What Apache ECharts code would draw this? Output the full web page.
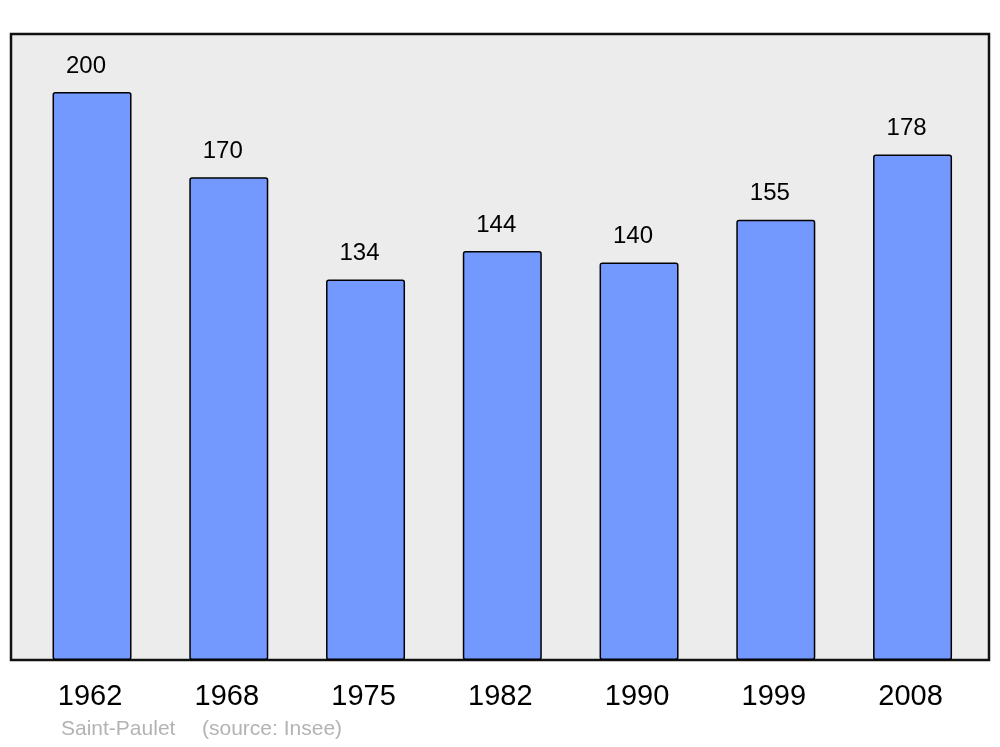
<!DOCTYPE html>
<html>
<head>
<meta charset="utf-8">
<script src="https://cdn.jsdelivr.net/npm/echarts@6/dist/echarts.min.js"></script>
<style>html,body{margin:0;padding:0;background:#fff;}#c{width:1000px;height:747px;}</style>
</head>
<body>
<div id="c"></div>
<script>
const years = ['1962', '1968', '1975', '1982', '1990', '1999', '2008'];
const population = [200, 170, 134, 144, 140, 155, 178];
const placeName = 'Saint-Paulet';
const sourceText = '(source: Insee)';

const chart = echarts.init(document.getElementById('c'), null, {renderer: 'canvas'});
const barData = population.map((v, i) => [i, v]);
const font = '"Liberation Sans", Arial, sans-serif';

chart.setOption({
  animation: false,
  backgroundColor: '#ffffff',
  title: [
    {text: placeName, left: 61, top: 719, textStyle: {fontFamily: font, fontSize: 21, fontWeight: 'normal', color: '#b3b3b3'}, padding: 0},
    {text: sourceText, left: 202, top: 719, textStyle: {fontFamily: font, fontSize: 21, fontWeight: 'normal', color: '#b3b3b3'}, padding: 0}
  ],
  grid: {
    left: 11, right: 11, top: 34, bottom: 87,
    show: true, backgroundColor: '#ececec', borderColor: '#111111', borderWidth: 2.5
  },
  xAxis: {
    type: 'value',
    min: -0.5925, max: 6.559,
    splitLine: {show: false},
    axisLine: {show: false},
    axisTick: {show: false},
    axisLabel: {
      customValues: [0, 1, 2, 3, 4, 5, 6],
      formatter: (v) => years[Math.round(v)],
      fontFamily: font, fontSize: 29, color: '#000', margin: 22,
      padding: [0, 4, 0, 0]
    }
  },
  yAxis: {
    type: 'value', min: 0, max: 220.42,
    show: false, splitLine: {show: false}
  },
  series: [{
    type: 'bar',
    data: barData,
    barWidth: 79,
    itemStyle: {color: '#7399ff', borderColor: '#000', borderWidth: 1.5, borderRadius: 2},
    label: {
      show: true, position: 'top', distance: 14, offset: [-6, 0],
      formatter: (p) => String(p.value[1]),
      fontFamily: font, fontSize: 24, color: '#000'
    }
  }]
});
</script>
</body>
</html>
